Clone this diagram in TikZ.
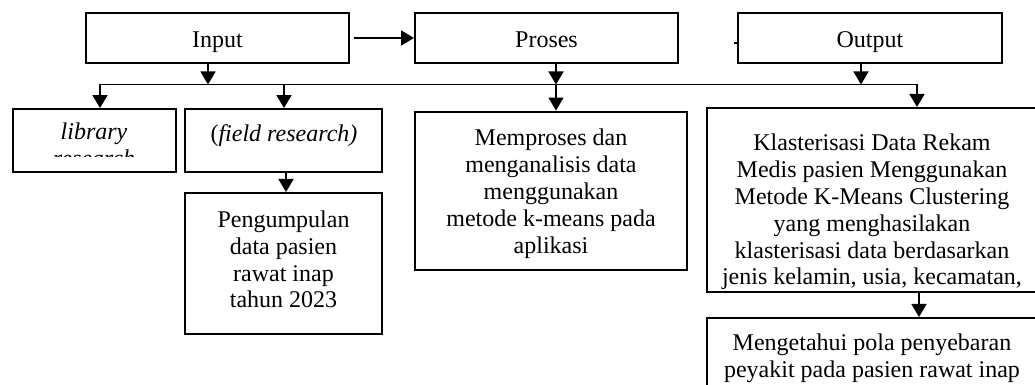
\documentclass[tikz,border=0pt]{standalone}
\usepackage{fontspec}
\setmainfont{Liberation Serif}
\usetikzlibrary{arrows.meta}
\tikzset{
  box/.style={draw, line width=1pt, inner sep=0pt, rectangle},
  txt/.style={font=\fontsize{12}{13.4}\selectfont, align=center, inner sep=0pt, anchor=north, execute at begin node=\strut},
  arr/.style={line width=0.9pt, -{Triangle[length=6.5pt,width=7.5pt]}},
  biarr/.style={line width=0.9pt, {Triangle[length=6.5pt,width=7.5pt]}-{Triangle[length=6.5pt,width=7.5pt]}},
  conn/.style={line width=0.9pt}
}
\begin{document}
\begin{tikzpicture}[x=0.5pt,y=-0.5pt]
\useasboundingbox (0,0) rectangle (1035,385);
\clip (0,0) rectangle (1035,385);
% boxes
\node[box, minimum width=131.5pt, minimum height=25pt] (input) at (217.5,38) {};
\node[box, minimum width=131.5pt, minimum height=25pt] (proses) at (546.5,38) {};
\node[box, minimum width=132pt, minimum height=25pt] (output) at (870,38) {};
\node[box, minimum width=81.65pt, minimum height=31.25pt] (library) at (94.3,140.3) {};
\node[box, minimum width=98.5pt, minimum height=31.25pt] (field) at (283.5,140.3) {};
\node[box, minimum width=98.5pt, minimum height=70.5pt] (peng) at (283.5,263.5) {};
\node[box, minimum width=136pt, minimum height=79.25pt] (memproses) at (551,190.8) {};
\node[box, minimum width=165.75pt, minimum height=92pt] (klaster) at (872.3,200) {};
\node[box, minimum width=165.75pt, minimum height=51pt] (mengetahui) at (872.3,369) {};
% texts
\node[txt] (inputt) at (217.5,28.7) {Input};
\node[txt] (prosest) at (546.5,28.7) {Proses};
\node[txt] (outputt) at (870,28.7) {Output};
\begin{scope}
\clip (14,110) rectangle (175,156.5);
\node[txt] (libraryt) at (94,122.7) {\textit{library}\\\textit{research}};
\end{scope}
\node[txt] (fieldt) at (284,122.7) {(\textit{field research)}};
\node[txt] (pengt) at (283.5,210.4) {Pengumpulan\\data pasien\\rawat inap\\tahun 2023};
\node[txt] (memprosest) at (551,128.8) {Memproses dan\\menganalisis data\\menggunakan\\metode k-means pada\\aplikasi};
\node[txt] (klastert) at (872,133.8) {Klasterisasi Data Rekam\\Medis pasien Menggunakan\\Metode K-Means Clustering\\yang menghasilakan\\klasterisasi data berdasarkan\\jenis kelamin, usia, kecamatan,};
\node[txt] (mengetahuit) at (872,333.5) {Mengetahui pola penyebaran\\peyakit pada pasien rawat inap};
% bus coordinates
\coordinate (busL) at (100,84.5);
\coordinate (busR) at (917,84.5);
\coordinate (ia) at (208,84.5);
\coordinate (pa) at (556,84.5);
\coordinate (oa) at (861,84.5);
\coordinate (fa) at (284,84.5);
\coordinate (fb) at (286,0);
\coordinate (kb) at (919,0);
% connectors
\draw[arr] ([xshift=2pt]input.east) -- (proses.west);
\draw[conn] ([xshift=-1.5pt,yshift=-2.5pt]output.west) -- ([yshift=-2.5pt]output.west);
\draw[arr] (input.south -| ia) -- (ia);
\draw[arr] (proses.south -| pa) -- (pa);
\draw[arr] (output.south -| oa) -- (oa);
\draw[biarr] (library.north -| busL) -- (busL) -- (busR) -- (klaster.north -| busR);
\draw[arr] (fa) -- (field.north -| fa);
\draw[arr] (pa) -- (memproses.north -| pa);
\draw[arr] (field.south -| fb) -- (peng.north -| fb);
\draw[arr] (klaster.south -| kb) -- (mengetahui.north -| kb);
\end{tikzpicture}
\end{document}
